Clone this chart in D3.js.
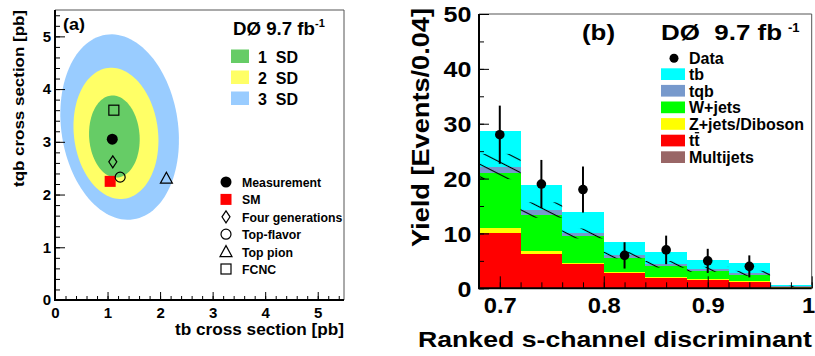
<!DOCTYPE html>
<html>
<head>
<meta charset="utf-8">
<script src="https://cdn.jsdelivr.net/npm/d3@7"></script>
<style>
  body { margin: 0; background: #fff; }
  svg text { font-family: "Liberation Sans", Arial, Helvetica, sans-serif; font-weight: bold; fill: #000; white-space: pre; }
</style>
</head>
<body>
<svg id="chart" width="815" height="356"></svg>
<script>
// ---------- Panel (a): tb vs tqb cross sections ----------
const contourLabels  = ["1  SD", "2  SD", "3  SD"];
const contourColors  = ["#66cc66", "#ffff66", "#99ccff"];
const contourCenterTb  = [1.13, 1.16, 1.23];
const contourCenterTqb = [3.10, 3.16, 3.28];
const contourHalfTb    = [0.48, 0.80, 1.11];
const contourHalfTqb   = [0.78, 1.25, 1.77];
const contourTiltDeg   = [4, 7, 8.5];

const modelNames   = ["Measurement", "SM", "Four generations", "Top-flavor", "Top pion", "FCNC"];
const modelSymbols = ["dot", "redsquare", "diamond", "circle", "triangle", "square"];
const modelTb      = [1.09, 1.05, 1.10, 1.24, 2.12, 1.12];
const modelTqb     = [3.05, 2.25, 2.62, 2.33, 2.31, 3.60];

const ticksA = [0, 1, 2, 3, 4, 5];

// ---------- Panel (b): ranked s-channel discriminant ----------
const binLow    = [0.68, 0.72, 0.76, 0.80, 0.84, 0.88, 0.92, 0.96];
const binWidth  = 0.04;
const multijets = [0.10, 0.10, 0.10, 0.05, 0.05, 0.05, 0.05, 0.02];
const ttbar     = [9.90, 6.10, 4.33, 2.68, 1.83, 1.52, 1.04, 0.10];
const zjets     = [1.05, 0.60, 0.24, 0.30, 0.23, 0.18, 0.18, 0.04];
const wjets     = [9.95, 6.56, 4.86, 2.55, 1.95, 1.45, 1.15, 0.14];
const tqbYield  = [1.20, 0.91, 0.47, 0.49, 0.31, 0.26, 0.31, 0.06];
const tbYield   = [6.50, 4.56, 3.96, 2.31, 2.19, 1.70, 1.82, 0.20];
const bkgUncert = [2.30, 1.40, 0.90, 0.60, 0.60, 0.45, 0.45, 0.10];
const dataCounts = [28, 19, 18, 6, 7, 5, 4, 0];
const dataErr    = [5.3, 4.4, 4.2, 2.4, 2.6, 2.2, 2.0, 0];

const sampleNames  = ["Multijets", "tt", "Z+jets/Diboson", "W+jets", "tqb", "tb"];
const sampleColors = ["#996666", "#ff0000", "#ffff00", "#00ff00", "#7799cc", "#00ffff"];
const sampleYields = [multijets, ttbar, zjets, wjets, tqbYield, tbYield];
const legendOrderB = ["tb", "tqb", "W+jets", "Z+jets/Diboson", "tt", "Multijets"];

const xTicksB      = [0.7, 0.8, 0.9, 1.0];
const xTickLabelsB = ["0.7", "0.8", "0.9", "1"];
const yTicksB      = [0, 10, 20, 30, 40, 50];

const svg = d3.select("#chart");

// widen/narrow a text element to a fixed length
function fitWidth(sel, len) {
  sel.attr("textLength", len).attr("lengthAdjust", "spacingAndGlyphs");
  return sel;
}
function scaleWidth(sel, k) {
  sel.each(function () {
    const w = this.getComputedTextLength();
    d3.select(this).attr("textLength", w * k).attr("lengthAdjust", "spacingAndGlyphs");
  });
  return sel;
}

// ================= Panel (a) =================
const xa = d3.scaleLinear().domain([0, 5.5]).range([55, 344]);
const ya = d3.scaleLinear().domain([0, 5.5]).range([300, 10]);
const ga = svg.append("g");

// frame (top / right)
ga.append("path")
  .attr("d", `M${xa(0)},${ya(5.5)}H${xa(5.5)}V${ya(0)}`)
  .attr("fill", "none").attr("stroke", "#555").attr("stroke-width", 1);

// confidence contours, outermost first
const contourLine = d3.line().x(d => xa(d[0])).y(d => ya(d[1]));
d3.range(contourLabels.length).reverse().forEach(i => {
  const th = contourTiltDeg[i] * Math.PI / 180;
  const pts = d3.range(0, 361, 3).map(a => {
    const t = a * Math.PI / 180;
    const u = contourHalfTb[i] * Math.cos(t), v = contourHalfTqb[i] * Math.sin(t);
    return [contourCenterTb[i] + u * Math.cos(th) - v * Math.sin(th),
            contourCenterTqb[i] + u * Math.sin(th) + v * Math.cos(th)];
  });
  ga.append("path").attr("d", contourLine(pts) + "Z").attr("fill", contourColors[i]);
});

function drawSymbol(g, type, cx, cy) {
  switch (type) {
    case "dot":
      g.append("circle").attr("cx", cx).attr("cy", cy).attr("r", 5.5).attr("fill", "#000"); break;
    case "redsquare":
      g.append("rect").attr("x", cx - 5.5).attr("y", cy - 5.5).attr("width", 11).attr("height", 11).attr("fill", "#ff0000"); break;
    case "diamond":
      g.append("path").attr("d", `M${cx},${cy - 6}L${cx + 4},${cy}L${cx},${cy + 6}L${cx - 4},${cy}Z`)
        .attr("fill", "none").attr("stroke", "#000").attr("stroke-width", 1.2); break;
    case "circle":
      g.append("circle").attr("cx", cx).attr("cy", cy).attr("r", 5).attr("fill", "none")
        .attr("stroke", "#000").attr("stroke-width", 1.2); break;
    case "triangle":
      g.append("path").attr("d", `M${cx},${cy - 6}L${cx + 6},${cy + 5}L${cx - 6},${cy + 5}Z`)
        .attr("fill", "none").attr("stroke", "#000").attr("stroke-width", 1.2); break;
    case "square":
      g.append("rect").attr("x", cx - 5).attr("y", cy - 5).attr("width", 10).attr("height", 10)
        .attr("fill", "none").attr("stroke", "#000").attr("stroke-width", 1.2); break;
  }
}
modelNames.forEach((n, i) => drawSymbol(ga, modelSymbols[i], xa(modelTb[i]), ya(modelTqb[i])));

// axes (ticks point inward)
const axXa = ga.append("g").attr("transform", "translate(0,300)");
axXa.call(d3.axisBottom(xa).tickValues(d3.range(0, 5.5, 0.2)).tickSizeInner(-4).tickSizeOuter(0).tickFormat(""));
const axXaMaj = ga.append("g").attr("transform", "translate(0,300)");
axXaMaj.call(d3.axisBottom(xa).tickValues(ticksA).tickSizeInner(-8).tickSizeOuter(0).tickPadding(7).tickFormat(d3.format("d")));
const axYa = ga.append("g").attr("transform", "translate(55,0)");
axYa.call(d3.axisLeft(ya).tickValues(d3.range(0, 5.5, 0.2)).tickSizeInner(-5).tickSizeOuter(0).tickFormat(""));
const axYaMaj = ga.append("g").attr("transform", "translate(55,0)");
axYaMaj.call(d3.axisLeft(ya).tickValues(ticksA).tickSizeInner(-10).tickSizeOuter(0).tickPadding(4).tickFormat(d3.format("d")));
[axXa, axXaMaj, axYa, axYaMaj].forEach(a => {
  a.select(".domain").remove();
  a.selectAll(".tick line").attr("stroke", "#000").attr("stroke-width", 1);
  a.selectAll("text").attr("font-size", 15).attr("font-family", null).attr("fill", "#000");
});
ga.append("path").attr("d", `M${xa(0)},${ya(5.5)}V${ya(0)}H${xa(5.5)}`)
  .attr("fill", "none").attr("stroke", "#000").attr("stroke-width", 2);

// axis titles
fitWidth(ga.append("text").attr("x", 175).attr("y", 335).attr("font-size", 16).text("tb cross section [pb]"), 169);
fitWidth(ga.append("text").attr("transform", "translate(24,187) rotate(-90)").attr("font-size", 15)
  .text("tqb cross section [pb]"), 177);

// labels
fitWidth(ga.append("text").attr("x", 63).attr("y", 30).attr("font-size", 16).text("(a)"), 22);
fitWidth(ga.append("text").attr("x", 233).attr("y", 35).attr("font-size", 18).text("DØ 9.7 fb"), 82);
ga.append("text").attr("x", 315).attr("y", 27).attr("font-size", 11).text("-1");

// contour legend
contourLabels.forEach((lab, i) => {
  const y0 = 49.5 + i * 21;
  ga.append("rect").attr("x", 231).attr("y", y0).attr("width", 18).attr("height", 13.5).attr("fill", contourColors[i]);
  ga.append("text").attr("x", 258).attr("y", y0 + 13.5).attr("font-size", 16).text(lab);
});

// model legend
modelNames.forEach((n, i) => {
  const cy = 182 + i * 17.4;
  drawSymbol(ga, modelSymbols[i], 226, cy);
  scaleWidth(ga.append("text").attr("x", 242).attr("y", cy + 5).attr("font-size", 13.5).text(n), 0.91);
});

// ================= Panel (b) =================
const xb = d3.scaleLinear().domain([0.68, 1.0]).range([479, 811.7]);
const yb = d3.scaleLinear().domain([0, 50]).range([288.3, 14]);
const gb = svg.append("g");

gb.append("path")
  .attr("d", `M${xb(0.68)},${yb(50)}H${xb(1.0)}V${yb(0)}`)
  .attr("fill", "none").attr("stroke", "#555").attr("stroke-width", 1);

// hatch pattern for the background uncertainty
const defs = svg.append("defs");
const pat = defs.append("pattern").attr("id", "hatch").attr("patternUnits", "userSpaceOnUse")
  .attr("width", 11).attr("height", 11).attr("patternTransform", "rotate(27)");
pat.append("line").attr("x1", 0).attr("y1", 5.5).attr("x2", 11).attr("y2", 5.5)
  .attr("stroke", "#000").attr("stroke-width", 1.1);

// stacked histogram
const bins = binLow.map((lo, j) => {
  const row = { lo };
  sampleNames.forEach((s, k) => row[s] = sampleYields[k][j]);
  return row;
});
const stack = d3.stack().keys(sampleNames)(bins);
stack.forEach((layer, k) => {
  gb.append("g").attr("fill", sampleColors[k]).attr("shape-rendering", "crispEdges")
    .selectAll("rect").data(layer).join("rect")
    .attr("x", d => xb(d.data.lo))
    .attr("width", d => xb(d.data.lo + binWidth) - xb(d.data.lo))
    .attr("y", d => yb(d[1]))
    .attr("height", d => yb(d[0]) - yb(d[1]));
});

// background uncertainty band (total excluding tb)
const bkgLayer = stack[sampleNames.indexOf("tqb")];
gb.append("g").selectAll("rect").data(bkgLayer).join("rect")
  .attr("x", d => xb(d.data.lo))
  .attr("width", d => xb(d.data.lo + binWidth) - xb(d.data.lo))
  .attr("y", (d, j) => yb(d[1] + bkgUncert[j]))
  .attr("height", (d, j) => yb(d[1] - bkgUncert[j]) - yb(d[1] + bkgUncert[j]))
  .attr("fill", "url(#hatch)");

// data points
const pts = binLow.map((lo, j) => ({ x: lo + binWidth / 2, n: dataCounts[j], e: dataErr[j] })).filter(d => d.n > 0);
gb.append("g").selectAll("line").data(pts).join("line")
  .attr("x1", d => xb(d.x)).attr("x2", d => xb(d.x))
  .attr("y1", d => yb(d.n - d.e)).attr("y2", d => yb(d.n + d.e))
  .attr("stroke", "#000").attr("stroke-width", 2);
gb.append("g").selectAll("circle").data(pts).join("circle")
  .attr("cx", d => xb(d.x)).attr("cy", d => yb(d.n)).attr("r", 4.8).attr("fill", "#000");

// axes
const axXb = gb.append("g").attr("transform", `translate(0,${yb(0)})`);
axXb.call(d3.axisBottom(xb).tickValues(d3.range(0.70, 1.0, 0.02)).tickSizeInner(-6).tickSizeOuter(0).tickFormat(""));
const axXbMaj = gb.append("g").attr("transform", `translate(0,${yb(0)})`);
axXbMaj.call(d3.axisBottom(xb).tickValues(xTicksB).tickSizeInner(-12).tickSizeOuter(0).tickPadding(9.5)
  .tickFormat((d, i) => xTickLabelsB[i]));
const axYb = gb.append("g").attr("transform", `translate(${xb(0.68)},0)`);
axYb.call(d3.axisLeft(yb).tickValues(d3.range(0, 51, 5)).tickSizeInner(-5).tickSizeOuter(0).tickFormat(""));
const axYbMaj = gb.append("g").attr("transform", `translate(${xb(0.68)},0)`);
axYbMaj.call(d3.axisLeft(yb).tickValues(yTicksB).tickSizeInner(-10).tickSizeOuter(0).tickPadding(7.5).tickFormat(d3.format("d")));
[axXb, axXbMaj, axYb, axYbMaj].forEach(a => {
  a.select(".domain").remove();
  a.selectAll(".tick line").attr("stroke", "#000").attr("stroke-width", 1);
  a.selectAll("text").attr("font-size", 22).attr("font-family", null).attr("fill", "#000");
});
axYbMaj.selectAll("text").attr("dy", "0.36em");
scaleWidth(axXbMaj.selectAll("text"), 1.08);
scaleWidth(axYbMaj.selectAll("text"), 1.14);
// keep the last label inside the page edge
axXbMaj.selectAll("text").filter(d => d === 1.0).attr("text-anchor", "end").attr("dx", 3);
gb.append("path").attr("d", `M${xb(0.68)},${yb(50)}V${yb(0)}H${xb(1.0)}`)
  .attr("fill", "none").attr("stroke", "#000").attr("stroke-width", 2);

// axis titles
fitWidth(gb.append("text").attr("x", 418).attr("y", 346.5).attr("font-size", 22).text("Ranked s-channel discriminant"), 394);
fitWidth(gb.append("text").attr("transform", "translate(429,247) rotate(-90)").attr("font-size", 23)
  .text("Yield [Events/0.04]"), 239);

// labels
fitWidth(gb.append("text").attr("x", 582).attr("y", 40).attr("font-size", 22).text("(b)"), 33);
fitWidth(gb.append("text").attr("x", 661).attr("y", 40).attr("font-size", 22).text("DØ  9.7 fb"), 121);
gb.append("text").attr("x", 788).attr("y", 32).attr("font-size", 13).text("-1");

// legend
gb.append("circle").attr("cx", 674).attr("cy", 58.3).attr("r", 4.5).attr("fill", "#000");
gb.append("text").attr("x", 689).attr("y", 63.5).attr("font-size", 16).text("Data");
legendOrderB.forEach((name, i) => {
  const k = sampleNames.indexOf(name);
  const y0 = 68.3 + i * 16.6;
  gb.append("rect").attr("x", 661).attr("y", y0).attr("width", 24).attr("height", 11.7).attr("fill", sampleColors[k]);
  const t = gb.append("text").attr("x", 689).attr("y", y0 + 11.7).attr("font-size", 16).text(name);
  if (name === "tt") {
    const n = t.node();
    const x0 = 689 + n.getSubStringLength(0, 1);
    const w = n.getSubStringLength(1, 1);
    gb.append("line").attr("x1", x0 + 0.5).attr("x2", x0 + w - 0.5)
      .attr("y1", y0 - 2).attr("y2", y0 - 2).attr("stroke", "#000").attr("stroke-width", 1.3);
  }
});
</script>
</body>
</html>
